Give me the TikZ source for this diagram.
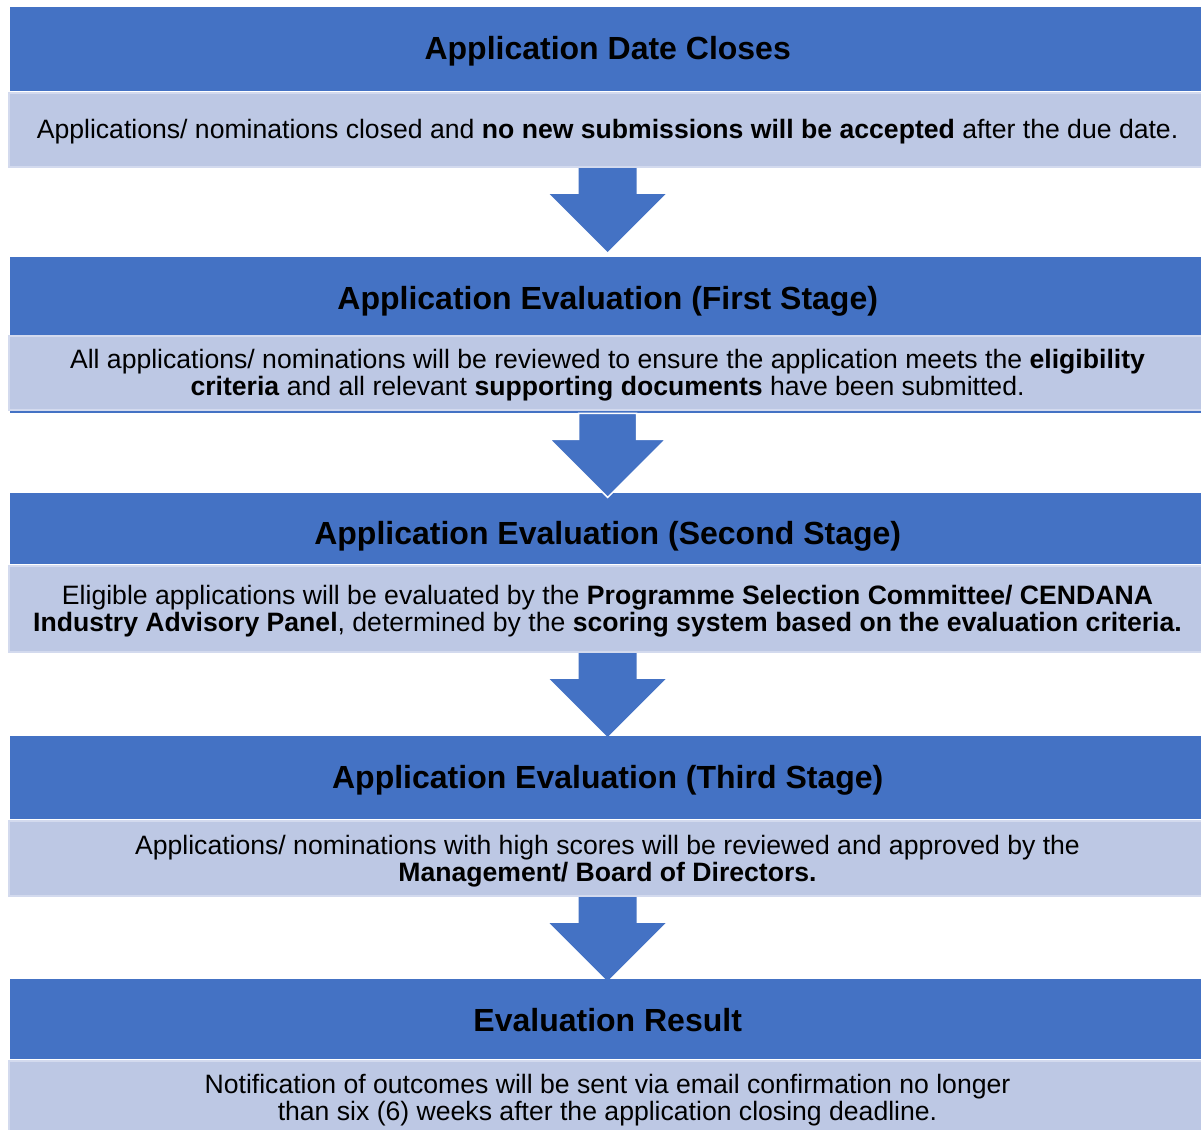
\documentclass[tikz,border=0pt]{standalone}
\usepackage{fontspec}
\setmainfont{Liberation Sans}
\usetikzlibrary{calc}
\definecolor{hdrblue}{HTML}{4472C4}
\definecolor{lightbox}{HTML}{BDC8E4}
\definecolor{lightedge}{HTML}{D3DAEE}
\tikzset{
  hdr/.style={fill=hdrblue, draw=none, anchor=north west, minimum width=1195pt, inner sep=0pt,
    font=\fontsize{32}{36}\selectfont\bfseries, text=black},
  body/.style={fill=lightbox, draw=lightedge, line width=2pt, anchor=north west, minimum width=1197pt, inner sep=0pt,
    align=center, font=\fontsize{26.6}{27}\selectfont, text=black}
}
\newcommand{\blockarr}[2][none]{%
  \fill[hdrblue, draw=#1, line width=1.5pt]
    ($(#2.south)+(-29pt,0)$) -- ($(#2.south)+(29pt,0)$) --
    ($(#2.south)+(29pt,-26pt)$) -- ($(#2.south)+(58pt,-26pt)$) --
    ($(#2.south)+(0,-84pt)$) -- ($(#2.south)+(-58pt,-26pt)$) --
    ($(#2.south)+(-29pt,-26pt)$) -- cycle;}
\begin{document}
\begin{tikzpicture}[x=1pt,y=-1pt]
\useasboundingbox[fill=white] (0,0) rectangle (1201,1129);
% Stage 1
\node[hdr, minimum height=84pt, text height=30pt, text depth=10pt] (h1) at (10,7) {Application Date Closes};
\node[body, minimum height=74pt, text height=29pt, text depth=11pt] (b1) at (8,92) {Applications/ nominations closed and \textbf{no new submissions will be accepted} after the due date.};
% Stage 2
\node[hdr, minimum height=156pt] (h2bg) at (10,257) {};
\node[hdr, minimum height=77pt, text height=33.5pt, text depth=6.5pt] (h2) at (10,257) {Application Evaluation (First Stage)};
\node[body, minimum height=74pt, text height=52pt, text depth=8pt] (b2) at (8,335) {All applications/ nominations will be reviewed to ensure the application meets the \textbf{eligibility}\\\textbf{criteria} and all relevant \textbf{supporting documents} have been submitted.};
% Stage 3
\node[hdr, minimum height=71pt, text height=35.5pt, text depth=4.5pt] (h3) at (10,493) {Application Evaluation (Second Stage)};
\node[body, minimum height=86pt, text height=52.5pt, text depth=7.5pt] (b3) at (8,565) {Eligible applications will be evaluated by the \textbf{Programme Selection Committee/ CENDANA}\\\textbf{Industry Advisory Panel}, determined by the \textbf{scoring system based on the evaluation criteria.}};
% Stage 4
\node[hdr, minimum height=83pt, text height=30.5pt, text depth=9.5pt] (h4) at (10,736) {Application Evaluation (Third Stage)};
\node[body, minimum height=75pt, text height=53pt, text depth=7pt] (b4) at (8,820) {Applications/ nominations with high scores will be reviewed and approved by the\\\textbf{Management/ Board of Directors.}};
% Stage 5
\node[hdr, minimum height=80pt, text height=32pt, text depth=8pt] (h5) at (10,979) {Evaluation Result};
\node[body, minimum height=72pt, text height=53.5pt, text depth=6.5pt] (b5) at (8,1060) {Notification of outcomes will be sent via email confirmation no longer\\than six (6) weeks after the application closing deadline.};
% arrows
\blockarr{b1}
\blockarr[white]{h2bg}
\blockarr{b3}
\blockarr{b4}
\end{tikzpicture}
\end{document}
